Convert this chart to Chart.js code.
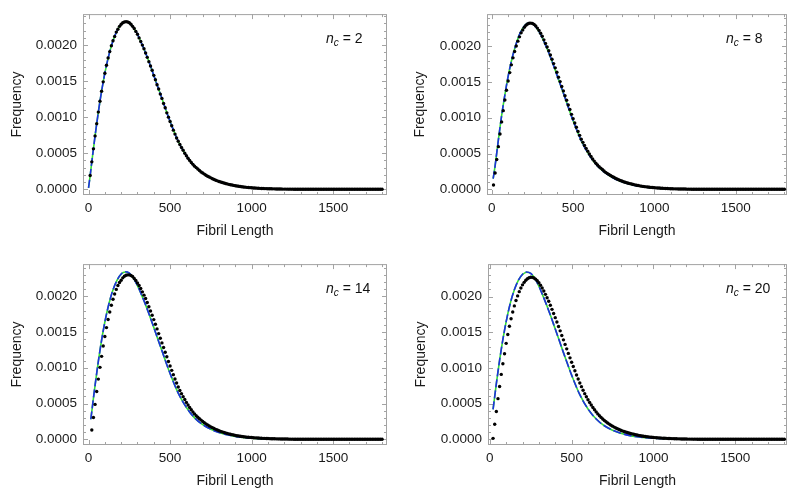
<!DOCTYPE html>
<html>
<head>
<meta charset="utf-8">
<script src="https://cdn.jsdelivr.net/npm/chart.js@4.4.1/dist/chart.umd.min.js"></script>
<style>
  html, body { margin: 0; padding: 0; background: #fff; }
  #wrap { position: relative; width: 800px; height: 497px; }
  canvas { position: absolute; }
</style>
</head>
<body>
<div id="wrap">
  <canvas id="c1" width="400" height="250" style="left:0;top:0"></canvas>
  <canvas id="c2" width="400" height="250" style="left:400px;top:0"></canvas>
  <canvas id="c3" width="400" height="250" style="left:0;top:250px"></canvas>
  <canvas id="c4" width="400" height="250" style="left:400px;top:250px"></canvas>
</div>
<script>
// tick labels
const xTicks = [0, 500, 1000, 1500];
const yTicks = [0, 0.0005, 0.001, 0.0015, 0.002];

// simulated points, one every 10 units of fibril length, frequency in units of 1e-6
// n_c = 2 (lengths 10..1800)
const simP1 = [
  190, 380, 560, 740, 910, 1070, 1220, 1360, 1490, 1610,
  1720, 1820, 1910, 1990, 2060, 2120, 2180, 2220, 2260, 2290,
  2310, 2320, 2325, 2320, 2310, 2290, 2260, 2230, 2190, 2150,
  2100, 2050, 2000, 1950, 1890, 1830, 1770, 1710, 1650, 1580,
  1520, 1450, 1390, 1320, 1260, 1190, 1130, 1060, 1000, 940,
  880, 820, 765, 710, 665, 620, 580, 540, 500, 465,
  430, 400, 370, 345, 320, 300, 280, 260, 240, 225,
  210, 195, 180, 170, 158, 146, 135, 125, 116, 108,
  100, 93, 86, 80, 74, 68, 63, 58, 53, 49,
  45, 41, 38, 35, 32, 29, 26, 24, 22, 20,
  18, 17, 15, 14, 12, 11, 10, 9, 8, 7,
  7, 6, 5, 5, 4, 4, 3, 3, 2, 2,
  2, 1, 1, 1, 1, 0, 0, 0, 0, 0,
  0, 0, 0, 0, 0, 0, 0, 0, 0, 0,
  0, 0, 0, 0, 0, 0, 0, 0, 0, 0,
  0, 0, 0, 0, 0, 0, 0, 0, 0, 0,
  0, 0, 0, 0, 0, 0, 0, 0, 0, 0,
  0, 0, 0, 0, 0, 0, 0, 0, 0, 0
];
// n_c = 8 (lengths 10..1800)
const simP2 = [
  60, 228, 416, 596, 774, 942, 1100, 1248, 1386, 1514,
  1632, 1740, 1838, 1926, 2004, 2072, 2132, 2188, 2228, 2266,
  2294, 2312, 2321, 2324, 2318, 2306, 2284, 2254, 2222, 2182,
  2140, 2090, 2040, 1990, 1938, 1878, 1818, 1758, 1698, 1636,
  1568, 1506, 1438, 1376, 1308, 1246, 1178, 1116, 1048, 988,
  928, 868, 809, 754, 701, 656, 612, 572, 532, 493,
  458, 424, 394, 365, 340, 316, 296, 276, 256, 237,
  222, 207, 192, 178, 168, 155, 144, 133, 123, 115,
  106, 99, 92, 85, 79, 73, 67, 62, 57, 52,
  48, 44, 40, 37, 34, 31, 28, 26, 24, 22,
  20, 18, 17, 15, 14, 12, 11, 10, 9, 8,
  7, 6, 6, 5, 4, 4, 3, 3, 3, 2,
  2, 2, 1, 1, 1, 1, 0, 0, 0, 0,
  0, 0, 0, 0, 0, 0, 0, 0, 0, 0,
  0, 0, 0, 0, 0, 0, 0, 0, 0, 0,
  0, 0, 0, 0, 0, 0, 0, 0, 0, 0,
  0, 0, 0, 0, 0, 0, 0, 0, 0, 0,
  0, 0, 0, 0, 0, 0, 0, 0, 0, 0
];
// n_c = 14 (lengths 20..1800)
const simP3 = [
  130, 304, 488, 668, 842, 1006, 1160, 1304, 1438,
  1562, 1676, 1780, 1874, 1958, 2032, 2096, 2150, 2192, 2225,
  2258, 2280, 2294, 2300, 2299, 2291, 2276, 2250, 2220, 2185,
  2150, 2108, 2062, 2016, 1968, 1912, 1854, 1794, 1734, 1674,
  1608, 1544, 1478, 1414, 1348, 1284, 1218, 1154, 1088, 1024,
  964, 904, 844, 787, 732, 683, 638, 596, 556, 516,
  479, 444, 412, 382, 355, 330, 308, 288, 268, 248,
  231, 216, 201, 186, 174, 163, 151, 139, 129, 120,
  111, 103, 96, 89, 82, 76, 71, 65, 60, 55,
  50, 47, 43, 39, 36, 33, 30, 28, 26, 24,
  22, 20, 19, 17, 16, 14, 13, 12, 11, 10,
  9, 8, 7, 7, 6, 5, 5, 4, 4, 3,
  3, 3, 2, 2, 2, 1, 1, 1, 1, 1,
  0, 0, 0, 0, 0, 0, 0, 0, 0, 0,
  0, 0, 0, 0, 0, 0, 0, 0, 0, 0,
  0, 0, 0, 0, 0, 0, 0, 0, 0, 0,
  0, 0, 0, 0, 0, 0, 0, 0, 0, 0,
  0, 0, 0, 0, 0, 0, 0, 0, 0, 0
];
// n_c = 20 (lengths 20..1800)
const simP4 = [
  13, 210, 390, 570, 740, 910, 1060, 1200, 1345,
  1470, 1585, 1690, 1785, 1870, 1945, 2010, 2070, 2120, 2165,
  2200, 2230, 2250, 2265, 2272, 2270, 2262, 2245, 2222, 2195,
  2160, 2122, 2078, 2032, 1984, 1935, 1880, 1822, 1764, 1705,
  1645, 1582, 1520, 1456, 1394, 1330, 1268, 1204, 1142, 1080,
  1020, 960, 902, 846, 790, 738, 688, 640, 596, 555,
  516, 480, 446, 414, 384, 356, 330, 307, 285, 265,
  246, 229, 213, 198, 184, 171, 159, 148, 137, 127,
  118, 110, 102, 95, 88, 82, 76, 70, 65, 60,
  55, 51, 47, 43, 40, 37, 34, 31, 28, 26,
  24, 22, 20, 18, 17, 15, 14, 13, 12, 11,
  10, 9, 8, 7, 6, 6, 5, 5, 4, 4,
  3, 3, 3, 2, 2, 2, 1, 1, 1, 1,
  1, 1, 0, 0, 0, 0, 0, 0, 0, 0,
  0, 0, 0, 0, 0, 0, 0, 0, 0, 0,
  0, 0, 0, 0, 0, 0, 0, 0, 0, 0,
  0, 0, 0, 0, 0, 0, 0, 0, 0, 0,
  0, 0, 0, 0, 0, 0, 0, 0, 0, 0
];

// fitted curves (green solid under blue dashed), frequency in units of 1e-6
const fitTail = [100, 125, 150, 175, 200, 225, 250, 275, 300, 325, 350, 375, 400, 425, 450, 475, 500,
  550, 600, 650, 700, 750, 800, 850, 900, 950, 1000, 1100, 1200, 1300, 1400, 1500, 1600, 1700, 1800];
const fitLenP1 = [0, 10, 20, 30, 40, 60, 80].concat(fitTail);
const fitLenP2 = [8, 20, 30, 40, 60, 80].concat(fitTail);
const fitLenP3 = [14, 20, 30, 40, 60, 80].concat(fitTail);
const fitLenP4 = [20, 30, 40, 60, 80].concat(fitTail);

const greenP1 = [20, 190, 380, 560, 740, 1070, 1360, 1610, 1865, 2060, 2200, 2290, 2323, 2310, 2245, 2150, 2025, 1890,
  1740, 1580, 1420, 1260, 1095, 940, 665, 465, 320, 225, 158, 108, 74, 49, 32, 20, 7, 2, 0, 0, 0, 0, 0, 0];
const blueP1 = [20, 190, 380, 560, 740, 1070, 1360, 1610, 1865, 2060, 2200, 2290, 2323, 2310, 2245, 2150, 2025, 1890,
  1740, 1580, 1420, 1260, 1095, 940, 665, 465, 320, 225, 158, 108, 74, 49, 32, 20, 7, 2, 0, 0, 0, 0, 0, 0];
const greenP2 = [150, 330, 510, 690, 1030, 1320, 1580, 1840, 2040, 2190, 2285, 2325, 2318, 2258, 2165, 2045, 1910,
  1760, 1600, 1440, 1280, 1115, 960, 680, 475, 325, 225, 155, 105, 70, 46, 30, 19, 7, 2, 0, 0, 0, 0, 0, 0];
const blueP2 = [150, 330, 510, 690, 1030, 1320, 1580, 1840, 2040, 2190, 2285, 2326, 2318, 2258, 2165, 2045, 1910,
  1760, 1600, 1440, 1280, 1115, 960, 680, 475, 325, 225, 155, 105, 70, 46, 30, 19, 7, 2, 0, 0, 0, 0, 0, 0];
const greenP3 = [280, 390, 575, 755, 1090, 1385, 1640, 1895, 2090, 2225, 2310, 2340, 2325, 2255, 2150, 2020, 1880,
  1725, 1565, 1400, 1240, 1075, 920, 645, 445, 300, 205, 140, 95, 62, 40, 26, 16, 6, 2, 0, 0, 0, 0, 0, 0];
const blueP3 = [280, 390, 575, 755, 1090, 1385, 1640, 1895, 2090, 2225, 2312, 2342, 2325, 2255, 2150, 2020, 1880,
  1725, 1565, 1400, 1240, 1075, 920, 645, 445, 300, 205, 140, 95, 62, 40, 26, 16, 6, 2, 0, 0, 0, 0, 0, 0];
const greenP4 = [420, 600, 780, 1110, 1400, 1650, 1905, 2095, 2230, 2310, 2342, 2325, 2255, 2145, 2010, 1865,
  1710, 1545, 1380, 1215, 1055, 900, 625, 425, 285, 190, 128, 85, 55, 35, 22, 14, 5, 1, 0, 0, 0, 0, 0, 0];
const blueP4 = [420, 600, 780, 1110, 1400, 1650, 1905, 2095, 2232, 2314, 2346, 2327, 2255, 2145, 2010, 1865,
  1710, 1545, 1380, 1215, 1055, 900, 625, 425, 285, 190, 128, 85, 55, 35, 22, 14, 5, 1, 0, 0, 0, 0, 0, 0];

function grid(from, to, by) {
  const out = [];
  for (let v = from; v <= to; v += by) out.push(v);
  return out;
}

const FONT = "'Liberation Sans', Arial, Helvetica, sans-serif";

const framePlugin = {
  id: 'frame',
  beforeDatasetsDraw(chart) {
    const { ctx, chartArea: a, scales: { x, y } } = chart;
    ctx.save();
    ctx.strokeStyle = '#a3a3a3';
    ctx.lineWidth = 1;
    ctx.strokeRect(a.left + 0.5, a.top + 0.5, a.right - a.left - 1, a.bottom - a.top - 1);
    ctx.beginPath();
    for (let v = 0; v <= 1800; v += 100) {
      const px = Math.round(x.getPixelForValue(v)) + 0.5;
      if (px < a.left || px > a.right) continue;
      const len = v % 500 === 0 ? 5 : 3;
      ctx.moveTo(px, a.bottom); ctx.lineTo(px, a.bottom - len);
      ctx.moveTo(px, a.top); ctx.lineTo(px, a.top + len);
    }
    for (let i = 0; i <= 24; i++) {
      const py = Math.round(y.getPixelForValue(i * 0.0001)) + 0.5;
      if (py < a.top || py > a.bottom) continue;
      const len = i % 5 === 0 ? 5 : 3;
      ctx.moveTo(a.left, py); ctx.lineTo(a.left + len, py);
      ctx.moveTo(a.right, py); ctx.lineTo(a.right - len, py);
    }
    ctx.stroke();
    ctx.restore();
  },
  afterDraw(chart, args, opts) {
    const { ctx, chartArea: a } = chart;
    ctx.save();
    ctx.fillStyle = '#111';
    ctx.textBaseline = 'alphabetic';
    let tx = a.right - 61;
    const ty = a.top + 29;
    ctx.font = 'italic 14px ' + FONT;
    ctx.fillText('n', tx, ty);
    tx += ctx.measureText('n').width;
    ctx.font = 'italic 10px ' + FONT;
    ctx.fillText('c', tx, ty + 3);
    tx += ctx.measureText('c').width;
    ctx.font = '14px ' + FONT;
    ctx.fillText(' = ' + opts.nc, tx, ty);
    ctx.restore();
  }
};

function makePanel(id, nc, sim, simStart, fitLen, green, blue, xr, yr, yW, titlePad) {
  const lengths = grid(simStart, 1800, 10);
  const pts = sim.map((f, i) => ({ x: lengths[i], y: f * 1e-6 }));
  const gPts = fitLen.map((l, i) => ({ x: l, y: green[i] * 1e-6 }));
  const bPts = fitLen.map((l, i) => ({ x: l, y: blue[i] * 1e-6 }));
  new Chart(document.getElementById(id), {
    type: 'scatter',
    data: {
      datasets: [
        { label: 'fit A', data: gPts, showLine: true, borderColor: '#33dd33', borderWidth: 1.6,
          pointRadius: 0, cubicInterpolationMode: 'monotone', order: 3 },
        { label: 'fit B', data: bPts, showLine: true, borderColor: '#1f2fe0', borderWidth: 1.6,
          borderDash: [8, 3], pointRadius: 0, cubicInterpolationMode: 'monotone', order: 2 },
        { label: 'simulation', data: pts, showLine: false, backgroundColor: '#000', borderWidth: 0,
          pointRadius: 1.7, order: 1 }
      ]
    },
    options: {
      responsive: false,
      animation: false,
      devicePixelRatio: 1,
      layout: { padding: { top: 6, right: 13, left: 0, bottom: 0 } },
      plugins: { legend: { display: false }, tooltip: { enabled: false }, frame: { nc } },
      scales: {
        x: {
          type: 'linear', min: xr[0], max: xr[1],
          grid: { display: false, drawTicks: false }, border: { display: false },
          afterBuildTicks: s => { s.ticks = xTicks.map(v => ({ value: v })); },
          afterFit: s => { s.height = 55; },
          ticks: { font: { family: FONT, size: 13.5 }, color: '#1a1a1a', padding: 5, maxRotation: 0,
            callback: v => String(v) },
          title: { display: true, text: 'Fibril Length', font: { family: FONT, size: 14 }, color: '#1a1a1a',
            padding: { top: 0, bottom: 10 } }
        },
        y: {
          type: 'linear', min: yr[0], max: yr[1],
          grid: { display: false, drawTicks: false }, border: { display: false },
          afterBuildTicks: s => { s.ticks = yTicks.map(v => ({ value: v })); },
          afterFit: s => { s.width = yW; },
          ticks: { font: { family: FONT, size: 13.5 }, color: '#1a1a1a', padding: 6,
            callback: v => v.toFixed(4) },
          title: { display: true, text: 'Frequency', font: { family: FONT, size: 14 }, color: '#1a1a1a',
            padding: { top: titlePad, bottom: 0 } }
        }
      }
    },
    plugins: [framePlugin]
  });
}

makePanel('c1', 2, simP1, 10, fitLenP1, greenP1, blueP1, [-34, 1830], [-0.00008, 0.00243], 83, 8.5);
makePanel('c2', 8, simP2, 10, fitLenP2, greenP2, blueP2, [-30, 1816], [-0.00008, 0.00245], 87, 12);
makePanel('c3', 14, simP3, 20, fitLenP3, greenP3, blueP3, [-34, 1830], [-0.00008, 0.00245], 83, 8.5);
makePanel('c4', 20, simP4, 20, fitLenP4, greenP4, blueP4, [-11, 1816], [-0.00008, 0.002456], 88, 13);
</script>
</body>
</html>
